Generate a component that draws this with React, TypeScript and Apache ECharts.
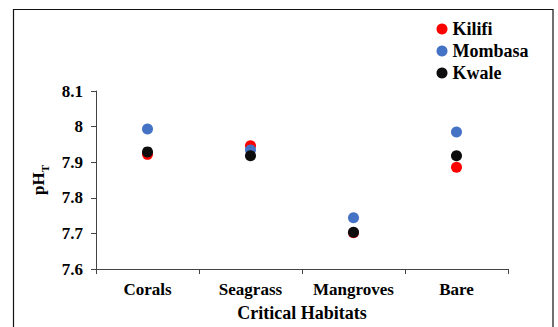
import React, { useEffect, useRef } from "react";
import * as echarts from "echarts";

const categories = ["Corals", "Seagrass", "Mangroves", "Bare"];
const kilifi = [7.922, 7.946, 7.702, 7.886];
const mombasa = [7.993, 7.934, 7.744, 7.985];
const kwale = [7.929, 7.918, 7.703, 7.918];
const yTicks = [7.6, 7.7, 7.8, 7.9, 8.0, 8.1];

const FONT = "Liberation Serif";

export default function App() {
  const ref = useRef<HTMLDivElement>(null);
  useEffect(() => {
    if (!ref.current) return;
    const chart = echarts.init(ref.current, undefined, { renderer: "svg" });
    const mk = (name: string, data: number[], color: string) => ({
      name,
      type: "scatter",
      data,
      symbol: "circle",
      symbolSize: 11,
      itemStyle: { color, opacity: 1 },
    });
    chart.setOption({
      animation: false,
      backgroundColor: "#fff",
      textStyle: { fontFamily: FONT },
      graphic: [
        {
          type: "rect",
          shape: { x: 13.5, y: 9.5, width: 539.5, height: 330 },
          style: { fill: "none", stroke: "#111", lineWidth: 1.2 },
          silent: true,
        },
      ],
      legend: {
        orient: "vertical",
        left: 431.5,
        top: 15,
        itemGap: 4,
        itemWidth: 11,
        itemHeight: 11,
        icon: "circle",
        textStyle: { fontFamily: FONT, fontWeight: "bold", fontSize: 18, color: "#000" },
        data: ["Kilifi", "Mombasa", "Kwale"],
      },
      grid: { left: 96, right: 50, top: 91, bottom: 55, containLabel: false },
      xAxis: {
        type: "category",
        data: categories,
        boundaryGap: true,
        name: "Critical Habitats",
        nameLocation: "middle",
        nameGap: 35,
        nameTextStyle: { fontFamily: FONT, fontWeight: "bold", fontSize: 18, color: "#000" },
        axisLine: { lineStyle: { color: "#444", width: 1 } },
        axisTick: { show: true, length: 5, lineStyle: { color: "#444" } },
        axisLabel: { fontFamily: FONT, fontWeight: "bold", fontSize: 17, color: "#000", margin: 12, interval: 0 },
        splitLine: { show: false },
      },
      yAxis: {
        type: "value",
        min: yTicks[0],
        max: yTicks[yTicks.length - 1],
        interval: 0.1,
        name: "{a|pH}{s|T}",
        nameLocation: "middle",
        nameGap: 45,
        nameRotate: 90,
        nameTextStyle: {
          rich: {
            a: { fontFamily: FONT, fontWeight: "bold", fontSize: 17, color: "#000", lineHeight: 20, verticalAlign: "bottom" },
            s: { fontFamily: FONT, fontWeight: "bold", fontSize: 11, color: "#000", lineHeight: 20, verticalAlign: "bottom", padding: [0, 0, -4, 0] },
          },
        },
        axisLine: { show: true, lineStyle: { color: "#444", width: 1 } },
        axisTick: { show: true, length: 5, lineStyle: { color: "#444" } },
        axisLabel: {
          fontFamily: FONT,
          fontWeight: "bold",
          fontSize: 17,
          color: "#000",
          margin: 13,
          formatter: (v: number) => {
            const r = Math.round(v * 10) / 10;
            return r === 8 ? "8" : r.toFixed(1);
          },
        },
        splitLine: { show: false },
      },
      series: [mk("Kilifi", kilifi, "#ff0000"), mk("Mombasa", mombasa, "#4472c4"), mk("Kwale", kwale, "#0d0d0d")],
    });
    return () => chart.dispose();
  }, []);
  return <div ref={ref} style={{ width: 558, height: 327, position: "absolute", left: 0, top: 0 }} />;
}
